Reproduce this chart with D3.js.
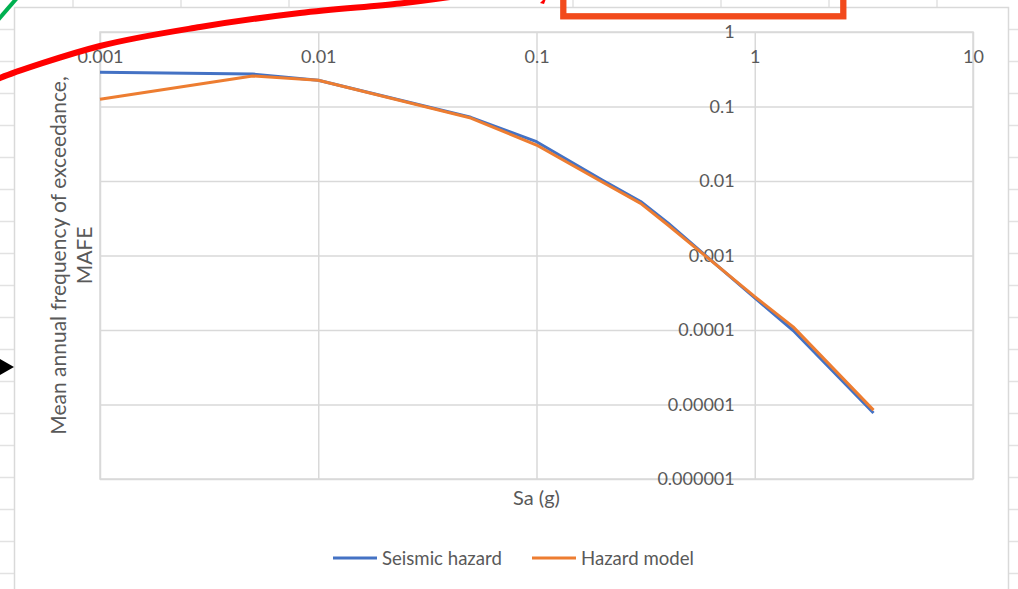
<!DOCTYPE html>
<html>
<head>
<meta charset="utf-8">
<script src="https://cdn.jsdelivr.net/npm/d3@7"></script>
<style>
  html, body { margin: 0; padding: 0; background: #ffffff; }
  svg { display: block; }
  text { font-family: Lato, "Open Sans", "Liberation Sans", sans-serif; fill: #595959; }
</style>
</head>
<body>
<svg id="chart" width="1018" height="589"></svg>
<script>
// ---- data ----
const sa = [0.001, 0.005, 0.01, 0.05, 0.1, 0.2, 0.3, 0.4, 1, 1.5, 3.5];
const seismicHazard = [0.288, 0.273, 0.225, 0.0716, 0.0337, 0.0103, 0.0053, 0.00273, 0.000269, 0.0000985, 0.0000077];
const hazardModel   = [0.125, 0.257, 0.225, 0.0700, 0.0304, 0.0097, 0.0050, 0.00257, 0.000280, 0.000110, 0.0000084];
const seriesNames = ["Seismic hazard", "Hazard model"];
const xTicks = [0.001, 0.01, 0.1, 1, 10];
const xTickLabels = ["0.001", "0.01", "0.1", "1", "10"];
const yTicks = [1, 0.1, 0.01, 0.001, 0.0001, 0.00001, 0.000001];
const yTickLabels = ["1", "0.1", "0.01", "0.001", "0.0001", "0.00001", "0.000001"];
const xTitle = "Sa (g)";
const yTitleLines = ["Mean annual frequency of exceedance,", "MAFE"];

// ---- layout ----
const W = 1018, H = 589;
const plot = { left: 100, right: 973, top: 32, bottom: 479 };
const colors = ["#4472C4", "#ED7D31"];
const gridColor = "#d9d9d9";

const svg = d3.select("#chart");

// spreadsheet background grid
const sheet = svg.append("g");
const rowLines = d3.range(-1, 18).map(k => 29.5 + 32 * k);
const colLines = [73, 181, 289, 573, 721, 829, 937];
sheet.selectAll("line.row").data(rowLines).enter().append("line")
  .attr("x1", 0).attr("x2", W).attr("y1", d => d).attr("y2", d => d)
  .attr("stroke", "#e2e2e2").attr("stroke-width", 1.5);
sheet.selectAll("line.col").data(colLines).enter().append("line")
  .attr("x1", d => d).attr("x2", d => d).attr("y1", 0).attr("y2", H)
  .attr("stroke", "#e2e2e2").attr("stroke-width", 1.5);

// chart area
svg.append("rect").attr("x", 14.5).attr("y", 7.5).attr("width", 994).attr("height", 600)
  .attr("fill", "#ffffff").attr("stroke", gridColor).attr("stroke-width", 1.5);

// scales
const x = d3.scaleLog().domain([0.001, 10]).range([plot.left, plot.right]);
const y = d3.scaleLog().domain([1e-6, 1]).range([plot.bottom, plot.top]);

// gridlines
const xGrid = svg.append("g").attr("transform", `translate(0,${plot.top})`)
  .call(d3.axisBottom(x).tickValues(xTicks).tickSize(plot.bottom - plot.top).tickFormat(""));
const yGrid = svg.append("g").attr("transform", `translate(${plot.left},0)`)
  .call(d3.axisRight(y).tickValues(yTicks).tickSize(plot.right - plot.left).tickFormat(""));
[xGrid, yGrid].forEach(g => {
  g.select(".domain").remove();
  g.selectAll("line").attr("stroke", gridColor).attr("stroke-width", 1.5);
});
svg.append("rect").attr("x", plot.left).attr("y", plot.top)
  .attr("width", plot.right - plot.left).attr("height", plot.bottom - plot.top)
  .attr("fill", "none").attr("stroke", gridColor).attr("stroke-width", 1.5);

// x tick labels (axis crosses at top)
const xAxis = svg.append("g").attr("transform", `translate(0,${plot.top})`)
  .call(d3.axisBottom(x).tickValues(xTicks).tickSize(0).tickPadding(18)
    .tickFormat((d, i) => xTickLabels[i]));
xAxis.select(".domain").remove();
xAxis.selectAll("text").attr("font-size", 18).attr("fill", "#595959")
  .style("font-family", "Lato, 'Open Sans', sans-serif");

// y tick labels (axis crosses at x = 1)
const yAxis = svg.append("g").attr("transform", `translate(${x(1)},0)`)
  .call(d3.axisLeft(y).tickValues(yTicks).tickSize(0).tickPadding(20)
    .tickFormat((d, i) => yTickLabels[i]));
yAxis.select(".domain").remove();
yAxis.selectAll("text").attr("font-size", 18).attr("fill", "#595959")
  .style("font-family", "Lato, 'Open Sans', sans-serif");

// series lines
const line = d3.line().x(d => x(d[0])).y(d => y(d[1]));
const series = [seismicHazard, hazardModel];
svg.append("g").selectAll("path").data(series).enter().append("path")
  .attr("d", vals => line(sa.map((s, i) => [s, vals[i]])))
  .attr("fill", "none")
  .attr("stroke", (d, i) => colors[i])
  .attr("stroke-width", 3)
  .attr("stroke-linejoin", "round");

// axis titles
svg.append("text").attr("x", (plot.left + plot.right) / 2).attr("y", 498)
  .attr("dy", "0.35em").attr("text-anchor", "middle").attr("font-size", 20).text(xTitle);
const yT = svg.append("g");
yT.selectAll("text").data(yTitleLines).enter().append("text")
  .attr("transform", (d, i) => `translate(${59 + i * 26},${(plot.top + plot.bottom) / 2}) rotate(-90)`)
  .attr("dy", "0.35em").attr("text-anchor", "middle").attr("font-size", 21).text(d => d);

// legend
const legendX = [333, 532];
const lg = svg.append("g").selectAll("g").data(seriesNames).enter().append("g")
  .attr("transform", (d, i) => `translate(${legendX[i]},558)`);
lg.append("line").attr("x1", 0).attr("x2", 44).attr("y1", 0).attr("y2", 0)
  .attr("stroke", (d, i) => colors[i]).attr("stroke-width", 3);
lg.append("text").attr("x", 49).attr("dy", "0.35em").attr("font-size", 18.6).text(d => d);

// ---- screenshot annotations ----
const ann = svg.append("g");
const redCurve = [[-6, 81], [0, 78], [100, 46], [200, 27], [300, 13], [400, 3.5], [450, -3]];
ann.append("path").attr("d", d3.line().curve(d3.curveCatmullRom)(redCurve))
  .attr("fill", "none").attr("stroke", "#ff0000").attr("stroke-width", 6);
ann.append("path").attr("d", "M540,3 L547,-4 L544,4 Z").attr("fill", "#ff0000");
ann.append("line").attr("x1", -2).attr("y1", 20).attr("x2", 17).attr("y2", -2)
  .attr("stroke", "#00b050").attr("stroke-width", 4);
ann.append("rect").attr("x", 563.3).attr("y", -20).attr("width", 280).attr("height", 36.3)
  .attr("fill", "none").attr("stroke", "#f24a1c").attr("stroke-width", 6.3);
ann.append("path").attr("d", "M0,359 L14,367 L0,375 Z").attr("fill", "#000000");
</script>
</body>
</html>
